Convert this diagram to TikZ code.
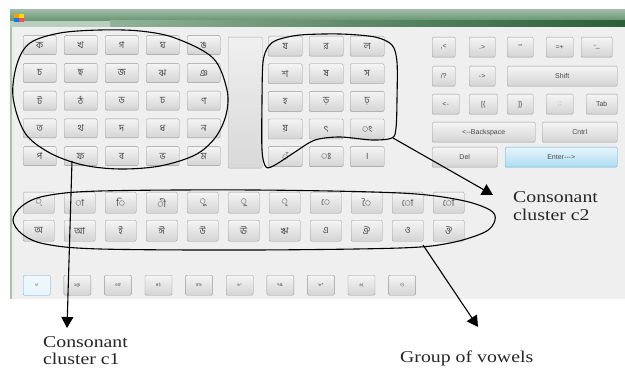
\documentclass[tikz,border=0pt]{standalone}
\usepackage{fontspec}
\setmainfont{Liberation Serif}
\newfontfamily\bn[Script=Bengali]{Hind Siliguri}
\newfontfamily\ks{Liberation Sans}
\newfontfamily\annot[FakeStretch=1.2]{Liberation Serif}
\usetikzlibrary{shapes.geometric,arrows.meta}
\definecolor{winbg}{HTML}{EFEFEF}
\definecolor{tbtop}{HTML}{9DB9A3}
\definecolor{tbbot}{HTML}{467F53}
\definecolor{tbdark}{HTML}{2A5F37}
\definecolor{enterA}{HTML}{E6F5FC}
\definecolor{enterB}{HTML}{AEDDF2}
\definecolor{enterD}{HTML}{5FA8D3}
\begin{document}
\begin{tikzpicture}[x=1pt,y=-1pt,
  key/.style={draw=black!40, rounded corners=1.2pt, top color=white!96!black, bottom color=black!17, inner sep=0pt, anchor=north west, text=black!72},
  bkey/.style={key, font=\bn\fontsize{9.5}{9.5}\selectfont},
  rkey/.style={key, font=\ks\fontsize{7}{7}\selectfont, minimum height=20pt},
  dkey/.style={key, font=\bn\fontsize{4.5}{5}\selectfont, minimum width=27pt, minimum height=20pt},
  ann/.style={line width=1.1pt, black},
  arr/.style={ann, -{Triangle[width=12pt,length=11pt]}},
  lab/.style={font=\annot\fontsize{16.5}{18}\selectfont, inner sep=0pt, anchor=base west, text=black!85}]
\useasboundingbox (0,0) rectangle (625,369);
\fill[white] (0,0) rectangle (625,369);
% window
\shade[top color=tbtop, bottom color=tbbot] (10,10) rectangle (625,27);
\shade[left color=tbbot!60!white, right color=tbdark] (110,21) rectangle (625,27);
\fill[tbtop!70!white] (10,21) rectangle (110,27);
\fill[orange!80!yellow] (14,14) rectangle (19,18);
\fill[yellow!80!orange] (19,14) rectangle (24,18);
\fill[blue!50!cyan] (14,18) rectangle (19,22);
\fill[red!70] (19,18) rectangle (24,22);
\fill[winbg] (10,27) rectangle (625,299);
\draw[green!35!black!35, line width=2pt] (11,27) -- (11,299);
% consonant grid c1
\foreach \r/\row in {0/{ক,খ,গ,ঘ,ঙ},1/{চ,ছ,জ,ঝ,ঞ},2/{ট,ঠ,ড,ঢ,ণ},3/{ত,থ,দ,ধ,ন},4/{প,ফ,ব,ভ,ম}}{
  \foreach \lab [count=\c from 0] in \row {
    \node[bkey, minimum width=33pt, minimum height=19pt] (ka-\r-\c) at ({23+41*\c},{35.5+27.75*\r}) {\lab};
  }
}
% slider
\node[draw=black!32, top color=black!6, bottom color=black!15, rounded corners=1pt, inner sep=0pt, anchor=north west, minimum width=34pt, minimum height=131pt] (slider) at (228,37) {};
% consonant grid c2
\foreach \r/\row in {0/{য,র,ল},1/{শ,ষ,স},2/{হ,ড়,ঢ়},3/{য়,ৎ,◌ং},4/{◌ঁ,◌ঃ,।}}{
  \foreach \lab [count=\c from 0] in \row {
    \node[bkey, minimum width=34pt, minimum height=20pt] (kb-\r-\c) at ({268+41*\c},{36+27.6*\r}) {\lab};
  }
}
% right keys
\node[rkey, minimum width=23pt] (r11) at (432,37) {,<};
\node[rkey, minimum width=26pt] (r12) at (469,37) {.>};
\node[rkey, minimum width=26pt] (r13) at (507,37) {'"};
\node[rkey, minimum width=27pt] (r14) at (546,37) {=+};
\node[rkey, minimum width=31pt] (r15) at (581,37) {-\_};
\node[rkey, minimum width=23pt] (r21) at (432,66) {/?};
\node[rkey, minimum width=26pt] (r22) at (469,66) {->};
\node[rkey, minimum width=110pt] (r23) at (507,66) {Shift};
\node[rkey, minimum width=27pt] (r31) at (432,94) {<-};
\node[rkey, minimum width=28pt] (r32) at (469,94) {[\{};
\node[rkey, minimum width=26pt] (r33) at (507,94) {]\}};
\node[rkey, minimum width=27pt, text=black!30] (r34) at (546,94) {;:};
\node[rkey, minimum width=31pt] (r35) at (586,94) {Tab};
\node[rkey, minimum width=103pt] (r41) at (432,122) {<--Backspace};
\node[rkey, minimum width=75pt] (r42) at (542,122) {Cntrl};
\node[rkey, minimum width=65pt] (r51) at (432,147) {Del};
\node[rkey, minimum width=112pt, draw=enterD, top color=enterA, bottom color=enterB] (r52) at (505,147) {Enter--->};
% vowels
\foreach \lab [count=\c from 0] in {◌্,◌া,◌ি,◌ী,◌ু,◌ূ,◌ৃ,◌ে,◌ৈ,◌ো,◌ৌ}
  \node[bkey, minimum width=31pt, minimum height=21pt] (kv-\c) at ({23+41*\c},192) {\lab};
\foreach \lab [count=\c from 0] in {অ,আ,ই,ঈ,উ,ঊ,ঋ,এ,ঐ,ও,ঔ}
  \node[bkey, minimum width=31pt, minimum height=21pt] (kw-\c) at ({23+41*\c},220) {\lab};
% digit row
\node[dkey, draw=enterD, top color=enterA!60!white, bottom color=enterA] (kd-0) at (23,275) {১!};
\foreach \lab [count=\c from 1] in {২@,৩\#,৪\$,৫\%,৬\textasciicircum,৭\&,৮*,৯(,০)}
  \node[dkey] (kd-\c) at ({23+40.6*\c},275) {\lab};
% annotations
\draw[ann] plot[smooth cycle, tension=0.55] coordinates {(13,97) (17,64) (30,43) (60,33) (100,30) (140,31) (175,38) (213,58) (227,90) (226,115) (215,138) (195,155) (160,166) (120,169) (83,165) (50,153) (25,133)};
\draw[ann] plot[smooth cycle, tension=0.5] coordinates {(277,40) (300,35) (340,34) (375,37) (392,45) (397,62) (397,100) (396,128) (392,138) (372,140) (340,137) (315,140) (295,152) (275,165) (266,167) (262,150) (262,100) (263,62) (268,47)};
\draw[ann] plot[smooth cycle, tension=0.55] coordinates {(13,220) (22,206) (45,196) (100,191) (254,190) (400,193) (460,200) (490,210) (495,220) (485,232) (450,243) (400,248) (254,250) (100,249) (45,244) (22,234)};
\coordinate (c1start) at (72,161);
\coordinate (c1tip) at (67,328);
\coordinate (c2start) at (393,138);
\coordinate (c2tip) at (493,195);
\coordinate (vstart) at (423,245);
\coordinate (vtip) at (478,327);
\draw[arr] (c1start) -- (c1tip);
\draw[arr] (c2start) -- (c2tip);
\draw[arr] (vstart) -- (vtip);
\node[lab] (l1a) at (43,347) {Consonant};
\node[lab] (l1b) at (43,364) {cluster c1};
\node[lab] (l2a) at (513,202) {Consonant};
\node[lab] (l2b) at (513,220) {cluster c2};
\node[lab] (l3) at (400,362) {Group of vowels};
\end{tikzpicture}
\end{document}
